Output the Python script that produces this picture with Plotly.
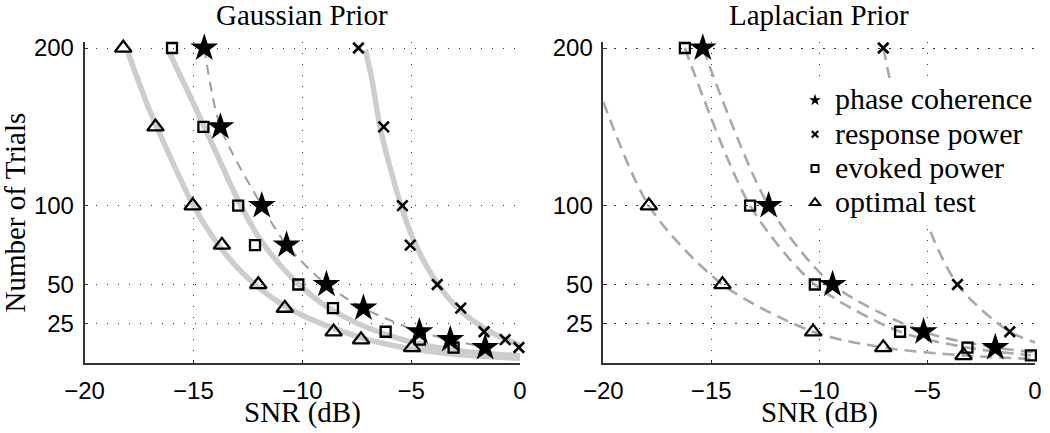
import plotly.graph_objects as go
from plotly.subplots import make_subplots

# ---- Gaussian prior: measured points (SNR in dB, number of trials) ----
g_star_snr = [-14.5, -13.76, -11.86, -10.72, -8.89, -7.19, -4.62, -3.2, -1.6]
g_star_n = [200, 150, 100, 75, 50, 35, 20, 15, 10]
g_cross_snr = [-7.42, -6.26, -5.4, -5.04, -3.8, -2.72, -1.65, -0.68, -0.05]
g_cross_n = [200, 150, 100, 75, 50, 35, 20, 15, 10]
g_sq_snr = [-15.98, -14.54, -12.94, -12.17, -10.18, -8.59, -6.17, -4.6, -3.05]
g_sq_n = [200, 150, 100, 75, 50, 35, 20, 15, 10]
g_tri_snr = [-18.22, -16.74, -15.03, -13.69, -12.02, -10.8, -8.56, -7.3, -4.96]
g_tri_n = [200, 150, 100, 75, 50, 35, 20, 15, 10]

# ---- Gaussian prior: fitted curves ----
g_fit_tri_snr = [-18.0, -17.0, -16.0, -15.0, -14.0, -13.0, -12.0, -11.0, -10.0,
                 -9.0, -8.0, -7.0, -6.0, -5.0, -4.0, -3.0, -2.0, -1.0, 0.0]
g_fit_tri_n = [197, 160, 129, 100, 78, 61, 48, 38, 30.5,
               24.5, 19.5, 15, 11.8, 9.2, 7.3, 5.8, 4.7, 3.9, 3.2]
g_fit_sq_snr = [-16.1, -15.0, -14.0, -13.0, -12.0, -11.0, -10.0, -9.0, -8.0,
                -7.0, -6.0, -5.0, -4.0, -3.0, -2.0, -1.0, 0.0]
g_fit_sq_n = [197, 165, 135, 105, 80, 62, 48, 37, 29,
              22.5, 17.5, 13.5, 10.5, 8.3, 6.8, 5.6, 4.8]
g_fit_cross_snr = [-7.1, -6.8, -6.43, -6.0, -5.46, -5.0, -4.5, -4.0, -3.5,
                   -3.0, -2.5, -2.0, -1.5, -1.0, -0.5, 0.0]
g_fit_cross_n = [199, 180, 150, 126, 100, 82, 67, 55, 45,
                 37, 30.5, 25.5, 21, 17.5, 14.5, 11.5]

# ---- Laplacian prior (points outside [-20, 0] only shape the dashed lines) ----
l_star_snr = [-15.39, -12.34, -9.38, -5.16, -1.84, 1.5]
l_star_n = [200, 100, 50, 20, 10, 5]
l_cross_snr = [-7.03, -5.3, -3.59, -1.17, 0.8]
l_cross_n = [200, 100, 50, 20, 10]
l_sq_snr = [-16.22, -13.2, -10.2, -6.25, -3.13, -0.19]
l_sq_n = [200, 100, 50, 20, 10, 5]
l_tri_snr = [-20.9, -17.89, -14.48, -10.28, -7.03, -3.31, 0.3]
l_tri_n = [200, 100, 50, 20, 10, 5, 2.5]

x_ticks = [-20, -15, -10, -5, 0]
y_ticks = [25, 50, 100, 200]
legend_names = ["phase coherence", "response power", "evoked power", "optimal test"]

SERIF = "Liberation Serif, Times New Roman, serif"
SANS = "Liberation Sans, Arial, sans-serif"
FIT_GREY = "#cdcdcd"
DASH_GREY = "#a9a9a9"
INK = "#000000"

STAR = dict(symbol="star", size=21, color=INK, line=dict(width=0))
CROSS = dict(symbol="x-thin-open", size=10.5, color=INK, line=dict(width=2.6, color=INK))
SQUARE = dict(symbol="square-open", size=10, color=INK, line=dict(width=2.3, color=INK))
TRI = dict(symbol="triangle-up-open", size=14.5, color=INK, line=dict(width=2.3, color=INK))


def visible(xs, ys):
    keep = [i for i, v in enumerate(xs) if -20 <= v <= 0]
    return [xs[i] for i in keep], [ys[i] for i in keep]


fig = make_subplots(rows=1, cols=2)

# Gaussian: thick grey fits + dashed line through the phase-coherence points
for xs, ys in [(g_fit_tri_snr, g_fit_tri_n), (g_fit_sq_snr, g_fit_sq_n),
               (g_fit_cross_snr, g_fit_cross_n)]:
    fig.add_trace(go.Scatter(x=xs, y=ys, mode="lines", showlegend=False, hoverinfo="skip",
                             line=dict(color=FIT_GREY, width=5.5, shape="spline", smoothing=0.8)),
                  row=1, col=1)
fig.add_trace(go.Scatter(x=g_star_snr, y=g_star_n, mode="lines", showlegend=False,
                         hoverinfo="skip",
                         line=dict(color="#9d9d9d", width=2, dash="10px,7px",
                                   shape="spline", smoothing=0.8)),
              row=1, col=1)

# Laplacian: dashed grey lines through every series
for xs, ys in [(l_tri_snr, l_tri_n), (l_sq_snr, l_sq_n), (l_star_snr, l_star_n),
               (l_cross_snr, l_cross_n)]:
    fig.add_trace(go.Scatter(x=xs, y=ys, mode="lines", showlegend=False, hoverinfo="skip",
                             line=dict(color=DASH_GREY, width=2.6, dash="12px,7px",
                                       shape="spline", smoothing=0.8)),
                  row=1, col=2)

# markers
panels = [
    (1, [(g_star_snr, g_star_n, STAR), (g_sq_snr, g_sq_n, SQUARE),
         (g_tri_snr, g_tri_n, TRI), (g_cross_snr, g_cross_n, CROSS)]),
    (2, [(l_star_snr, l_star_n, STAR), (l_sq_snr, l_sq_n, SQUARE),
         (l_tri_snr, l_tri_n, TRI), (l_cross_snr, l_cross_n, CROSS)]),
]
for col, series in panels:
    for xs, ys, mk in series:
        vx, vy = visible(xs, ys)
        fig.add_trace(go.Scatter(x=vx, y=vy, mode="markers", marker=mk, cliponaxis=False,
                                 showlegend=False), row=1, col=col)

# legend entries (small symbols like the original)
legend_marks = [
    dict(symbol="star", size=9, color=INK, line=dict(width=0)),
    dict(symbol="x-thin-open", size=6.5, color=INK, line=dict(width=2.2, color=INK)),
    dict(symbol="square-open", size=7, color=INK, line=dict(width=2, color=INK)),
    dict(symbol="triangle-up-open", size=9, color=INK, line=dict(width=2, color=INK)),
]
for name, mk in zip(legend_names, legend_marks):
    fig.add_trace(go.Scatter(x=[None], y=[None], mode="markers", marker=mk,
                             name=f"<span style='font-size:30px'>{name}</span>"),
                  row=1, col=2)

axis_common = dict(
    showline=True, linecolor="#333333", linewidth=1.5, mirror=False,
    ticks="inside", ticklen=4, tickwidth=1, tickcolor="#333333",
    showgrid=True, gridcolor="#333333", gridwidth=1, griddash="1.5px,9.5px",
    zeroline=False, tickfont=dict(family=SANS, size=24, color=INK),
    automargin=False,
)
W, H = 1050, 433
for ax in ["xaxis", "xaxis2"]:
    fig.layout[ax].update(range=[-20, 0], tickvals=x_ticks, ticklabelstandoff=5, **axis_common)
for ax in ["yaxis", "yaxis2"]:
    fig.layout[ax].update(range=[0, 204], tickvals=y_ticks, ticklabelstandoff=4,
                          domain=[(H - 363.3) / H, (H - 41.7) / H], **axis_common)
fig.layout.xaxis.domain = [84.5 / W, 520 / W]
fig.layout.xaxis2.domain = [603.3 / W, 1035 / W]

annotations = [
    dict(text="Gaussian Prior", x=302 / W, y=1 - 15.5 / H),
    dict(text="Laplacian Prior", x=819 / W, y=1 - 15.5 / H),
    dict(text="SNR (dB)", x=302 / W, y=1 - 412 / H),
    dict(text="SNR (dB)", x=819 / W, y=1 - 412 / H),
    dict(text="Number of Trials", x=14.5 / W, y=1 - 213 / H, textangle=-90),
]
for a in annotations:
    fig.add_annotation(xref="paper", yref="paper", showarrow=False,
                       xanchor="center", yanchor="middle", borderpad=0,
                       font=dict(family=SERIF, size=29, color=INK), **a)

fig.update_layout(
    width=W, height=H,
    margin=dict(l=0, r=0, t=0, b=0, autoexpand=False),
    paper_bgcolor="white", plot_bgcolor="white",
    legend=dict(x=795 / W, y=1 - 78 / H, xanchor="left", yanchor="top",
                bgcolor="white", borderwidth=0,
                font=dict(family=SERIF, size=24, color=INK),
                itemwidth=30),
)

# the page's default body margin would shift the 1050x433 figure inside the window
fig.write_html("out.html", config={"displayModeBar": False},
               post_script="document.body.style.margin = '0';")
